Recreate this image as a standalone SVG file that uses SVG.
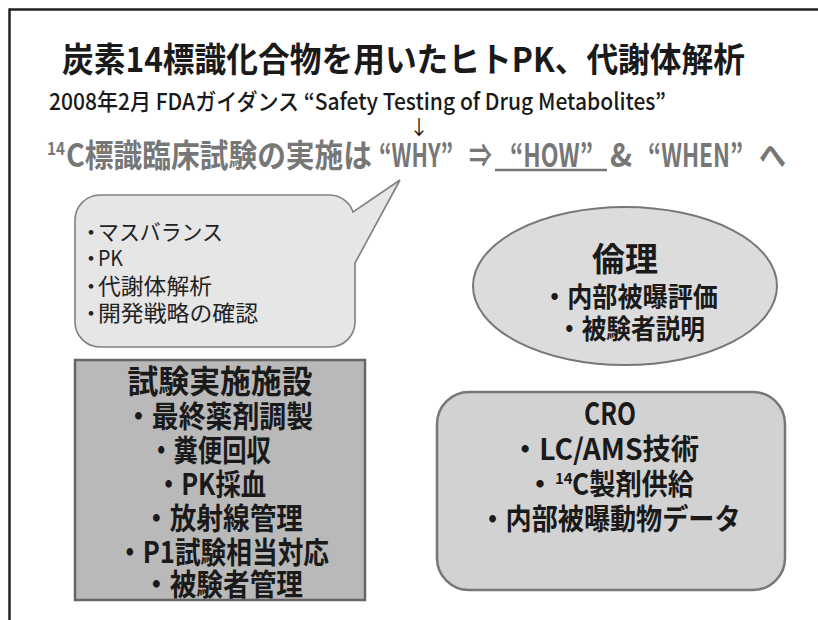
<svg xmlns="http://www.w3.org/2000/svg" width="818" height="620" viewBox="0 0 818 620">
<style>
text{font-family:"Noto Sans CJK JP","Liberation Sans",sans-serif;}
.b{font-weight:bold;fill:#1a1a1a;}
.c{text-anchor:middle;}
.g{font-weight:bold;fill:#777;font-size:32px;}
.s{font-size:22px;fill:#222;}
.frame{stroke:#222;stroke-width:2.5;fill:none;}
</style>
<g id="frame">
<line class="frame" x1="9" y1="9.5" x2="818" y2="9.5"/>
<line class="frame" x1="9.5" y1="8.5" x2="9.5" y2="620"/>
</g>
<g id="header">
<text class="b" x="62" y="72" font-size="34" textLength="683" lengthAdjust="spacingAndGlyphs">炭素14標識化合物を用いたヒトPK、代謝体解析</text>
<text x="49" y="110" font-size="23" font-weight="500" fill="#1a1a1a" textLength="617" lengthAdjust="spacingAndGlyphs">2008年2月 FDAガイダンス “Safety Testing of Drug Metabolites”</text>
<text class="c" x="419" y="135" font-size="20" fill="#1a1a1a">↓</text>
<text x="47" y="155" font-size="17" font-weight="bold" fill="#777" textLength="18" lengthAdjust="spacingAndGlyphs">14</text>
<text class="g" x="66" y="167" textLength="306" lengthAdjust="spacingAndGlyphs">C標識臨床試験の実施は</text>
<text class="g" x="379" y="167" textLength="74" lengthAdjust="spacingAndGlyphs">“WHY”</text>
<text class="g" x="469" y="167" textLength="23" lengthAdjust="spacingAndGlyphs">⇒</text>
<text class="g" x="510" y="167" textLength="83" lengthAdjust="spacingAndGlyphs">“HOW”</text>
<line x1="495" y1="170" x2="607" y2="170" stroke="#777" stroke-width="2.5"/>
<text class="g" x="610" y="167" textLength="22" lengthAdjust="spacingAndGlyphs">&amp;</text>
<text class="g" x="648" y="167" textLength="95" lengthAdjust="spacingAndGlyphs">“WHEN”</text>
<text class="g" x="759" y="167" textLength="27" lengthAdjust="spacingAndGlyphs">へ</text>
</g>
<g id="bubble">
<path d="M100,195 H330 A25,25 0 0 1 353,212 L400,180 L355,263 V322 A25,25 0 0 1 330,347 H100 A25,25 0 0 1 75,322 V220 A25,25 0 0 1 100,195 Z" fill="#e6e6e6" stroke="#808080" stroke-width="1.6"/>
<text class="s" x="80" y="240">・</text>
<text class="s" x="98" y="240" textLength="125" lengthAdjust="spacingAndGlyphs">マスバランス</text>
<text class="s" x="80" y="266">・</text>
<text class="s" x="98" y="266" textLength="25" lengthAdjust="spacingAndGlyphs">PK</text>
<text class="s" x="80" y="294">・</text>
<text class="s" x="98" y="294" textLength="114" lengthAdjust="spacingAndGlyphs">代謝体解析</text>
<text class="s" x="80" y="321">・</text>
<text class="s" x="98" y="321" textLength="160" lengthAdjust="spacingAndGlyphs">開発戦略の確認</text>
</g>
<g id="ethics">
<ellipse cx="625" cy="286" rx="152" ry="79" fill="#dcdcdc" stroke="#777" stroke-width="2"/>
<text class="b c" x="625" y="271" font-size="33" textLength="66" lengthAdjust="spacingAndGlyphs">倫理</text>
<text class="b c" x="630" y="307" font-size="27" textLength="176" lengthAdjust="spacingAndGlyphs">・内部被曝評価</text>
<text class="b c" x="631" y="339" font-size="27" textLength="148" lengthAdjust="spacingAndGlyphs">・被験者説明</text>
</g>
<g id="facility">
<rect x="75" y="360" width="290" height="240" fill="#b9b9b9" stroke="#666" stroke-width="2.5"/>
<text class="b c" x="220" y="393" font-size="32" textLength="185" lengthAdjust="spacingAndGlyphs">試験実施施設</text>
<text class="b c" x="219" y="427" font-size="30" textLength="188" lengthAdjust="spacingAndGlyphs">・最終薬剤調製</text>
<text class="b c" x="210" y="461" font-size="30" textLength="122" lengthAdjust="spacingAndGlyphs">・糞便回収</text>
<text class="b c" x="211" y="495" font-size="30" textLength="110" lengthAdjust="spacingAndGlyphs">・PK採血</text>
<text class="b c" x="223" y="529" font-size="30" textLength="160" lengthAdjust="spacingAndGlyphs">・放射線管理</text>
<text class="b c" x="223" y="563" font-size="30" textLength="212" lengthAdjust="spacingAndGlyphs">・P1試験相当対応</text>
<text class="b c" x="223" y="595" font-size="30" textLength="160" lengthAdjust="spacingAndGlyphs">・被験者管理</text>
</g>
<g id="cro">
<rect x="437" y="392" width="348" height="198" rx="32" ry="32" fill="#d2d2d2" stroke="#777" stroke-width="2.5"/>
<text class="b c" x="610" y="425" font-size="31" textLength="52" lengthAdjust="spacingAndGlyphs">CRO</text>
<text class="b c" x="605" y="460" font-size="29" textLength="188" lengthAdjust="spacingAndGlyphs">・LC/AMS技術</text>
<text class="b c" x="540" y="495" font-size="29">・</text>
<text x="555" y="484" font-size="15" font-weight="bold" fill="#1a1a1a">14</text>
<text x="572" y="495" font-size="29" font-weight="bold" fill="#1a1a1a" textLength="122" lengthAdjust="spacingAndGlyphs">C製剤供給</text>
<text class="b c" x="610" y="530" font-size="29" textLength="261" lengthAdjust="spacingAndGlyphs">・内部被曝動物データ</text>
</g>
</svg>
